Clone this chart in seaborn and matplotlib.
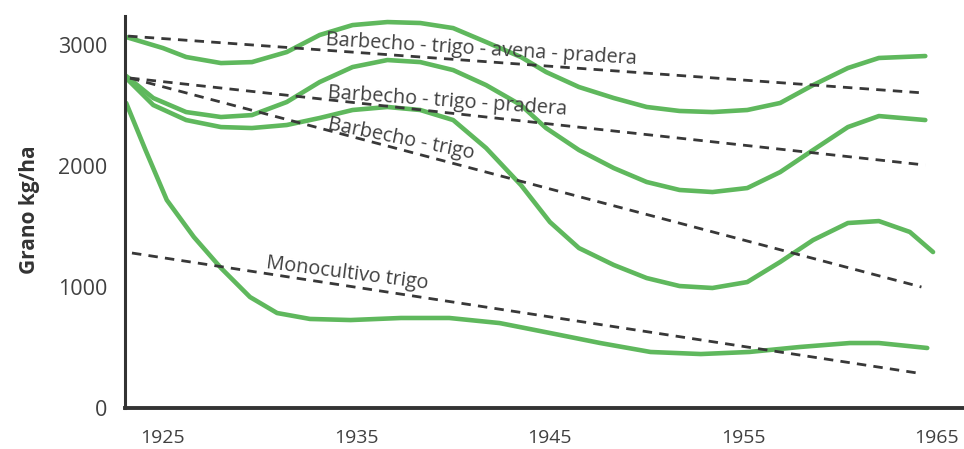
import numpy as np
import pandas as pd
import matplotlib
matplotlib.use("Agg")
import matplotlib.pyplot as plt
import seaborn as sns

# ---- data ----
years_a = [1923.1, 1925.0, 1926.2, 1928.0, 1929.6, 1931.4, 1933.1, 1934.8, 1936.6, 1938.3,
           1940.0, 1941.7, 1943.5, 1944.8, 1946.5, 1948.3, 1950.0, 1951.7, 1953.4, 1955.2,
           1956.9, 1958.6, 1960.4, 1962.0, 1964.4]
vals_a = [3066, 2975, 2901, 2851, 2859, 2942, 3083, 3165, 3190, 3182,
          3140, 3025, 2901, 2777, 2653, 2562, 2488, 2455, 2446, 2463,
          2521, 2669, 2810, 2893, 2909]

years_b = [1923.1, 1924.5, 1926.2, 1928.0, 1929.6, 1931.4, 1933.1, 1934.8, 1936.6, 1938.3,
           1940.0, 1941.7, 1943.5, 1944.8, 1946.5, 1948.3, 1950.0, 1951.7, 1953.4, 1955.2,
           1956.9, 1958.6, 1960.4, 1962.0, 1964.4]
vals_b = [2744, 2562, 2446, 2405, 2421, 2529, 2694, 2818, 2876, 2859,
          2793, 2669, 2504, 2314, 2132, 1983, 1868, 1802, 1785, 1818,
          1950, 2132, 2322, 2413, 2380]

years_c = [1923.1, 1924.5, 1926.2, 1928.0, 1929.6, 1931.4, 1933.1, 1934.8, 1936.6, 1938.3,
           1940.0, 1941.7, 1943.5, 1945.0, 1946.5, 1948.3, 1950.0, 1951.7, 1953.4, 1955.2,
           1956.9, 1958.6, 1960.4, 1962.0, 1963.6, 1964.8]
vals_c = [2727, 2504, 2380, 2322, 2314, 2339, 2397, 2463, 2488, 2463,
          2380, 2149, 1843, 1537, 1322, 1182, 1074, 1008, 992, 1041,
          1207, 1388, 1529, 1545, 1455, 1289]

years_d = [1923.1, 1924.1, 1925.2, 1926.6, 1928.0, 1929.5, 1930.9, 1932.6, 1934.7, 1937.3,
           1939.8, 1942.4, 1945.0, 1947.6, 1950.2, 1952.8, 1955.3, 1957.9, 1960.5, 1962.0,
           1964.5]
vals_d = [2521, 2132, 1719, 1413, 1157, 917, 785, 736, 727, 744,
          744, 702, 620, 537, 463, 446, 463, 504, 537, 537,
          496]

# trend lines (start, end)
trend_names = ["Barbecho - trigo - avena - pradera", "Barbecho - trigo - pradera",
               "Barbecho - trigo", "Monocultivo trigo"]
trend_years = [(1923.2, 1964.4), (1923.3, 1964.4), (1923.3, 1964.2), (1923.4, 1964.0)]
trend_vals = [(3074, 2603), (2727, 2008), (2727, 1000), (1281, 289)]

xtick_years = [1925, 1935, 1945, 1955, 1965]
ytick_vals = [0, 1000, 2000, 3000]

# ---- style ----
sns.set_theme(style="white")
plt.rcParams["font.family"] = ["Open Sans", "DejaVu Sans"]

GREEN = "#5fb85d"
DASH = "#383838"
TEXT = "#404040"

fig = plt.figure(figsize=(9.64, 4.49), dpi=100)
ax = fig.add_axes([125 / 964, 1 - 408 / 449, (964 - 125) / 964, (408 - 16) / 449])

for yrs, vs in [(years_a, vals_a), (years_b, vals_b), (years_c, vals_c), (years_d, vals_d)]:
    df = pd.DataFrame({"year": yrs, "val": vs})
    sns.lineplot(data=df, x="year", y="val", ax=ax, color=GREEN, linewidth=3.3,
                 estimator=None, sort=True, solid_capstyle="round", solid_joinstyle="round")

for yrs, vs in zip(trend_years, trend_vals):
    df = pd.DataFrame({"year": list(yrs), "val": list(vs)})
    sns.lineplot(data=df, x="year", y="val", ax=ax, color=DASH, linewidth=2.0,
                 estimator=None, linestyle=(0, (3.4, 2.6)))

ax.set_xlim(1923.04, 1966.4)
ax.set_ylim(0, 3240)
ax.set_xticks(xtick_years)
ax.set_xticklabels([str(y) for y in xtick_years])
ax.set_yticks(ytick_vals)
ax.set_yticklabels([str(v) for v in ytick_vals])
ax.set_yticks([0], minor=True)
ax.tick_params(axis="both", which="major", length=0, labelcolor=TEXT)
ax.tick_params(axis="x", which="major", pad=15, labelsize=14)
ax.tick_params(axis="y", which="major", pad=13, labelsize=15.5)
ax.tick_params(axis="y", which="minor", length=7, width=1.2, color="#555555", left=True)
ax.set_xlabel("")
ax.set_ylabel("")

for s in ["top", "right"]:
    ax.spines[s].set_visible(False)
ax.spines["left"].set_color("#333333")
ax.spines["left"].set_linewidth(2.2)
ax.spines["bottom"].set_color("#333333")
ax.spines["bottom"].set_linewidth(2.8)

# annotation labels
label_pos = [(1933.4, 3000, -3.5), (1933.5, 2560, -4.0), (1933.5, 2305, -11.5), (1930.3, 1160, -7.3)]
for name, (x, y, rot) in zip(trend_names, label_pos):
    ax.text(x, y, name, fontsize=14.3, color=TEXT, rotation=rot, rotation_mode="anchor",
            ha="left", va="baseline")

fig.text(30 / 964, 1 - 210 / 449, "Grano kg/ha", rotation=90, fontsize=15,
         fontweight="bold", color="#333333", ha="center", va="center")

fig.savefig("out.png", dpi=100, facecolor="white")
